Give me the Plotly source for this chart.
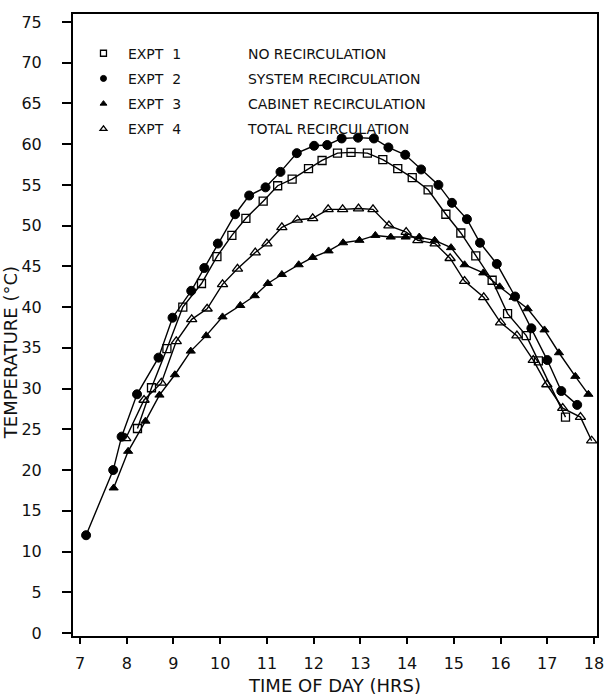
import plotly.graph_objects as go

# ---- data (hours, deg C) ----
expt1_hr = [8.23, 8.53, 8.86, 9.20, 9.60, 9.93, 10.25, 10.55, 10.92, 11.23, 11.54, 11.89, 12.18,
            12.51, 12.80, 13.15, 13.48, 13.80, 14.11, 14.45, 14.83, 15.15, 15.47, 15.82, 16.15,
            16.55, 16.81, 17.39]
expt1_t = [25.1, 30.1, 34.9, 40.0, 42.9, 46.2, 48.8, 50.9, 53.0, 54.9, 55.7, 57.0, 58.0,
           58.9, 59.0, 58.9, 58.1, 57.0, 55.9, 54.4, 51.4, 49.1, 46.3, 43.3, 39.2,
           36.5, 33.4, 26.5]

expt2_hr = [7.13, 7.71, 7.89, 8.22, 8.68, 8.98, 9.38, 9.66, 9.95, 10.32, 10.62, 10.97, 11.29,
            11.64, 12.01, 12.29, 12.60, 12.95, 13.29, 13.60, 13.96, 14.30, 14.67, 14.96, 15.28,
            15.56, 15.92, 16.31, 16.66, 17.00, 17.30, 17.64]
expt2_t = [12.0, 20.0, 24.1, 29.3, 33.8, 38.7, 42.0, 44.8, 47.8, 51.4, 53.7, 54.7, 56.6,
           58.9, 59.8, 59.9, 60.7, 60.8, 60.7, 59.6, 58.7, 56.9, 55.0, 52.8, 50.8,
           47.9, 45.3, 41.3, 37.4, 33.5, 29.7, 28.0]

expt3_hr = [7.72, 8.03, 8.40, 8.70, 9.03, 9.37, 9.70, 10.05, 10.43, 10.74, 11.02, 11.32, 11.68,
            11.98, 12.32, 12.63, 12.98, 13.32, 13.65, 13.97, 14.26, 14.59, 14.94, 15.23, 15.63,
            15.98, 16.28, 16.58, 16.94, 17.25, 17.60, 17.88]
expt3_t = [17.8, 22.3, 26.0, 29.2, 31.7, 34.6, 36.5, 38.8, 40.2, 41.4, 42.9, 44.0, 45.2,
           46.1, 46.9, 47.9, 48.2, 48.8, 48.6, 48.6, 48.6, 48.2, 47.3, 45.2, 44.2,
           42.5, 41.2, 39.8, 37.2, 34.4, 31.5, 29.3]

expt4_hr = [7.98, 8.37, 8.74, 9.06, 9.39, 9.72, 10.05, 10.37, 10.75, 11.00, 11.32, 11.65, 11.98,
            12.31, 12.62, 12.96, 13.27, 13.61, 13.98, 14.23, 14.60, 14.92, 15.23, 15.64, 16.00,
            16.35, 16.70, 16.99, 17.33, 17.71, 17.95]
expt4_t = [23.9, 28.6, 30.7, 35.8, 38.5, 39.8, 42.8, 44.7, 46.7, 47.8, 49.8, 50.7, 50.9,
           52.0, 52.0, 52.1, 52.0, 50.0, 49.2, 48.2, 47.8, 46.0, 43.2, 41.2, 38.1,
           36.5, 33.5, 30.5, 27.6, 26.5, 23.6]

expt_names = ["EXPT", "EXPT", "EXPT", "EXPT"]
expt_nums = ["1", "2", "3", "4"]
expt_desc = ["NO RECIRCULATION", "SYSTEM RECIRCULATION", "CABINET RECIRCULATION", "TOTAL RECIRCULATION"]
x_ticks = list(range(7, 19))
y_ticks = list(range(0, 80, 5))

series = [
    (expt1_hr, expt1_t, dict(symbol="square-open", size=8, color="black", line=dict(width=1.3, color="black"))),
    (expt2_hr, expt2_t, dict(symbol="circle", size=9, color="black", line=dict(width=1, color="black"))),
    (expt3_hr, expt3_t, dict(symbol="triangle-up", size=8, color="black", line=dict(width=1, color="black"))),
    (expt4_hr, expt4_t, dict(symbol="triangle-up-open", size=9, color="black", line=dict(width=1.3, color="black"))),
]

FONT = "DejaVu Sans"
NB = "\u00a0"

fig = go.Figure()
for (xs, ys, mk) in series:
    fig.add_trace(go.Scatter(x=xs, y=ys, mode="lines+markers", showlegend=False,
                             line=dict(color="black", width=1.4), marker=mk))
for i, (xs, ys, mk) in enumerate(series):
    lm = dict(mk)
    lm["size"] = 6
    fig.add_trace(go.Scatter(x=[None], y=[None], mode="markers", marker=lm,
                             name=NB + expt_names[i] + NB * 2 + expt_nums[i] + NB * 15 + expt_desc[i],
                             legendgroup=str(i), showlegend=True))

axis_common = dict(showline=True, linewidth=2, linecolor="black", mirror=True,
                   showgrid=False, zeroline=False, ticks="outside",
                   tickwidth=1.5, tickcolor="black", automargin=False,
                   tickfont=dict(family=FONT, size=16, color="#111"))

fig.update_layout(
    width=605, height=696,
    margin=dict(l=73, r=8, t=14, b=60),
    paper_bgcolor="white", plot_bgcolor="white",
    xaxis=dict(range=[6.85, 18.064], tickvals=x_ticks, ticklen=6, ticklabelstandoff=6,
               title=dict(text="TIME OF DAY (HRS)", font=dict(family=FONT, size=18, color="#111"), standoff=12),
               **axis_common),
    yaxis=dict(range=[-0.37, 75.98], tickvals=y_ticks, ticklen=9, ticklabelstandoff=17,
               **axis_common),
    legend=dict(x=0.02, y=0.962, xanchor="left", yanchor="top", bgcolor="rgba(0,0,0,0)",
                font=dict(family=FONT, size=14, color="#111"), tracegroupgap=4,
                itemwidth=30),
    annotations=[dict(text="TEMPERATURE (°C)", textangle=-90, xref="paper", yref="paper",
                      x=-0.118, y=0.455, xanchor="center", yanchor="middle", showarrow=False,
                      font=dict(family=FONT, size=18, color="#111"))],
)

fig.write_html("out.html")
